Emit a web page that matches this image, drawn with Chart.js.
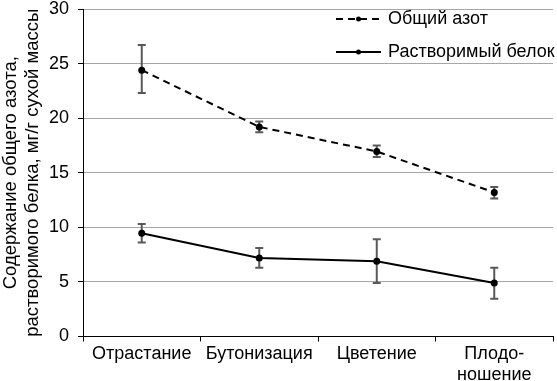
<!DOCTYPE html>
<html><head><meta charset="utf-8">
<script src="https://cdn.jsdelivr.net/npm/chart.js@4"></script>
<style>html,body{margin:0;padding:0;background:#fff}</style>
</head><body>
<canvas id="c" width="557" height="381"></canvas>
<script>
const categories = ['Отрастание', 'Бутонизация', 'Цветение', ['Плодо-', 'ношение']];
const seriesNames = ['Общий азот', 'Растворимый белок'];
const totalN = [24.4, 19.2, 16.95, 13.2];
const totalNLow = [22.3, 18.7, 16.45, 12.65];
const totalNHigh = [26.7, 19.7, 17.5, 13.7];
const protein = [9.45, 7.2, 6.9, 4.9];
const proteinLow = [8.6, 6.3, 4.9, 3.45];
const proteinHigh = [10.3, 8.1, 8.9, 6.3];
const yTicks = [0, 5, 10, 15, 20, 25, 30];
const yTitle = ['Содержание общего азота,', 'растворимого белка, мг/г сухой массы'];

const FONT = 'Liberation Sans, Arial, sans-serif';

const errorBars = {
  id: 'errorBars',
  beforeDatasetsDraw(chart) {
    const ctx = chart.ctx, y = chart.scales.y;
    chart.data.datasets.forEach((ds, di) => {
      const meta = chart.getDatasetMeta(di);
      meta.data.forEach((pt, i) => {
        const top = y.getPixelForValue(ds.errHigh[i]);
        const bot = y.getPixelForValue(ds.errLow[i]);
        ctx.save();
        ctx.strokeStyle = '#595959';
        ctx.lineWidth = 2;
        ctx.beginPath();
        ctx.moveTo(pt.x, top); ctx.lineTo(pt.x, bot);
        ctx.moveTo(pt.x - 4, top); ctx.lineTo(pt.x + 4, top);
        ctx.moveTo(pt.x - 4, bot); ctx.lineTo(pt.x + 4, bot);
        ctx.stroke();
        ctx.restore();
      });
    });
  }
};

const legendPlugin = {
  id: 'customLegend',
  afterDraw(chart) {
    const ctx = chart.ctx;
    const x0 = 336, x1 = 381, tx = 388;
    const ys = [19, 52];
    chart.data.datasets.forEach((ds, i) => {
      const y = ys[i];
      ctx.save();
      ctx.strokeStyle = '#000';
      ctx.lineWidth = 2;
      ctx.setLineDash(ds.borderDash || []);
      ctx.beginPath(); ctx.moveTo(x0, y); ctx.lineTo(x1, y); ctx.stroke();
      ctx.setLineDash([]);
      ctx.fillStyle = '#000';
      ctx.beginPath(); ctx.arc((x0 + x1) / 2, y, 2.5, 0, Math.PI * 2); ctx.fill();
      ctx.font = '18px ' + FONT;
      ctx.textBaseline = 'middle';
      ctx.textAlign = 'left';
      ctx.fillText(ds.label, tx, y);
      ctx.restore();
    });
  }
};

new Chart(document.getElementById('c'), {
  type: 'line',
  data: {
    labels: categories,
    datasets: [
      { label: seriesNames[0], data: totalN, errLow: totalNLow, errHigh: totalNHigh,
        borderColor: '#000', backgroundColor: '#000', borderWidth: 2, borderDash: [7, 5],
        pointRadius: 3.5, pointBackgroundColor: '#000', pointBorderWidth: 0, tension: 0 },
      { label: seriesNames[1], data: protein, errLow: proteinLow, errHigh: proteinHigh,
        borderColor: '#000', backgroundColor: '#000', borderWidth: 2,
        pointRadius: 3.5, pointBackgroundColor: '#000', pointBorderWidth: 0, tension: 0 }
    ]
  },
  options: {
    responsive: false,
    animation: false,
    layout: { padding: { top: 9, right: 1, left: 0, bottom: 0 } },
    plugins: { legend: { display: false }, tooltip: { enabled: false } },
    scales: {
      x: {
        offset: true,
        grid: { offset: true, drawOnChartArea: false, drawTicks: true, tickLength: 5, color: '#000', lineWidth: 1 },
        border: { color: '#000', width: 1 },
        ticks: { color: '#000', font: { family: FONT, size: 18, lineHeight: 1.15 }, maxRotation: 0, autoSkip: false, padding: 2 },
        afterFit(s) { s.height = 44.5; s.paddingLeft = 0; s.paddingRight = 0; }
      },
      y: {
        min: 0, max: 30,
        afterBuildTicks(s) { s.ticks = yTicks.map(v => ({ value: v })); },
        grid: { color: '#a6a6a6', lineWidth: 1, drawTicks: true, tickLength: 5, tickColor: '#000' },
        border: { color: '#000', width: 1 },
        ticks: { color: '#000', font: { family: FONT, size: 18 }, padding: 9 },
        title: { display: true, text: yTitle, color: '#000', font: { family: FONT, size: 18.5, lineHeight: 1.2 }, padding: { top: 0, bottom: 0 } },
        afterFit(s) { s.width = 83; s.paddingTop = 0; s.paddingBottom = 0; }
      }
    }
  },
  plugins: [errorBars, legendPlugin]
});
</script>
</body></html>
